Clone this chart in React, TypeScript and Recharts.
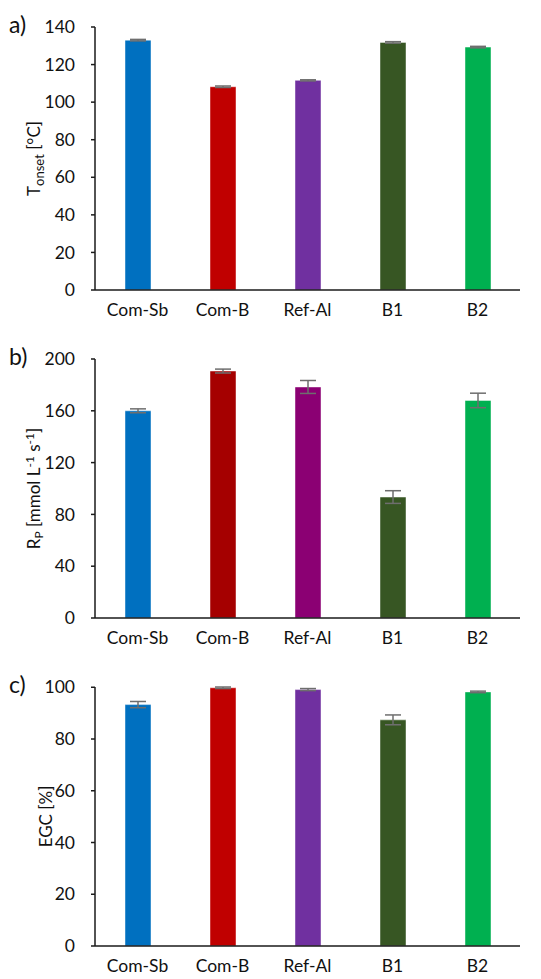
import React from 'react';
import { BarChart, Bar, XAxis, YAxis, ErrorBar, Cell, Label } from 'recharts';

const categories = ['Com-Sb', 'Com-B', 'Ref-Al', 'B1', 'B2'];

const tonset = [133.0, 108.2, 111.6, 131.8, 129.3];
const tonsetErr = [0.4, 0.4, 0.3, 0.4, 0.4];
const tonsetTicks = [0, 20, 40, 60, 80, 100, 120, 140];

const rp = [160.0, 190.7, 178.4, 93.4, 168.0];
const rpErr = [1.5, 1.5, 5.0, 4.9, 5.6];
const rpTicks = [0, 40, 80, 120, 160, 200];

const egc = [93.3, 99.8, 99.1, 87.4, 98.2];
const egcErr = [1.2, 0.3, 0.4, 1.9, 0.3];
const egcTicks = [0, 20, 40, 60, 80, 100];

const colorsA = ['#0070C0', '#C00000', '#7030A0', '#375623', '#00B050'];
const colorsB = ['#0070C0', '#A50000', '#8B0073', '#375623', '#00B050'];
const colorsC = ['#0070C0', '#C00000', '#7030A0', '#375623', '#00B050'];

const FONT = 'Lato, "Open Sans", sans-serif';
const TXT = '#111111';

const build = (vals: number[], errs: number[]) =>
  categories.map((c, i) => ({ name: c, value: vals[i], err: errs[i] }));

type PanelProps = {
  top: number;
  height: number;
  marginTop: number;
  xAxisHeight: number;
  data: { name: string; value: number; err: number }[];
  colors: string[];
  max: number;
  ticks: number[];
  panel: string;
  title: (vb: any) => React.ReactNode;
};

const Panel = ({ top, height, marginTop, xAxisHeight, data, colors, max, ticks, panel, title }: PanelProps) => (
  <div style={{ position: 'absolute', left: 0, top, width: 541, height }}>
    <BarChart
      width={541}
      height={height}
      data={data}
      margin={{ top: marginTop, right: 21, left: 0, bottom: 0 }}
      barSize={26}
    >
      <XAxis
        dataKey="name"
        height={xAxisHeight}
        tickLine={false}
        tickSize={0}
        tickMargin={14}
        axisLine={{ stroke: '#1a1a1a', strokeWidth: 1.5 }}
        tick={{ fill: TXT, fontSize: 17.5, fontFamily: FONT }}
        interval={0}
      />
      <YAxis
        width={95}
        domain={[0, max]}
        ticks={ticks}
        interval={0}
        tickSize={4}
        tickMargin={16}
        axisLine={{ stroke: '#1a1a1a', strokeWidth: 1.5 }}
        tickLine={{ stroke: '#1a1a1a', strokeWidth: 1.5 }}
        tick={{ fill: TXT, fontSize: 17.5, fontFamily: FONT }}
      >
        <Label content={(props: any) => title(props.viewBox)} />
      </YAxis>
      <Bar dataKey="value" isAnimationActive={false} stroke="#ffffff" strokeOpacity={0.45} strokeWidth={1}>
        {data.map((d, i) => (
          <Cell key={d.name} fill={colors[i]} />
        ))}
        <ErrorBar dataKey="err" width={8} stroke="#6e6e6e" strokeWidth={1.5} direction="y" />
      </Bar>
    </BarChart>
    <div
      style={{
        position: 'absolute',
        left: 9,
        top: marginTop - 17,
        fontFamily: FONT,
        fontSize: 23,
        color: TXT,
      }}
    >
      {panel}
    </div>
  </div>
);

const titleA = (vb: any) => {
  const cy = vb.y + vb.height / 2;
  const cx = 40;
  return (
    <text
      x={cx}
      y={cy}
      transform={`rotate(-90, ${cx}, ${cy})`}
      textAnchor="middle"
      fontFamily={FONT}
      fontSize={17}
      fill={TXT}
    >
      <tspan>T</tspan>
      <tspan fontSize={13} dy={4}>onset</tspan>
      <tspan dy={-4}> [°C]</tspan>
    </text>
  );
};

const titleB = (vb: any) => {
  const cy = vb.y + vb.height / 2;
  const cx = 40;
  return (
    <text
      x={cx}
      y={cy}
      transform={`rotate(-90, ${cx}, ${cy})`}
      textAnchor="middle"
      fontFamily={FONT}
      fontSize={17}
      fill={TXT}
    >
      <tspan>R</tspan>
      <tspan fontSize={12} dy={3}>P</tspan>
      <tspan dy={-3}> [mmol L</tspan>
      <tspan fontSize={12} dy={-6}>-1</tspan>
      <tspan dy={6}> s</tspan>
      <tspan fontSize={12} dy={-6}>-1</tspan>
      <tspan dy={6}>]</tspan>
    </text>
  );
};

const titleC = (vb: any) => {
  const cy = vb.y + vb.height / 2;
  const cx = 52;
  return (
    <text
      x={cx}
      y={cy}
      transform={`rotate(-90, ${cx}, ${cy})`}
      textAnchor="middle"
      fontFamily={FONT}
      fontSize={17}
      fill={TXT}
    >
      EGC [%]
    </text>
  );
};

export default function App() {
  return (
    <div style={{ position: 'absolute', left: 0, top: 0, width: 541, height: 979, background: '#fff' }}>
      <Panel
        top={0}
        height={330}
        marginTop={27}
        xAxisHeight={40}
        data={build(tonset, tonsetErr)}
        colors={colorsA}
        max={140}
        ticks={tonsetTicks}
        panel="a)"
        title={titleA}
      />
      <Panel
        top={330}
        height={330}
        marginTop={29}
        xAxisHeight={42}
        data={build(rp, rpErr)}
        colors={colorsB}
        max={200}
        ticks={rpTicks}
        panel="b)"
        title={titleB}
      />
      <Panel
        top={660}
        height={319}
        marginTop={27}
        xAxisHeight={33}
        data={build(egc, egcErr)}
        colors={colorsC}
        max={100}
        ticks={egcTicks}
        panel="c)"
        title={titleC}
      />
    </div>
  );
}
